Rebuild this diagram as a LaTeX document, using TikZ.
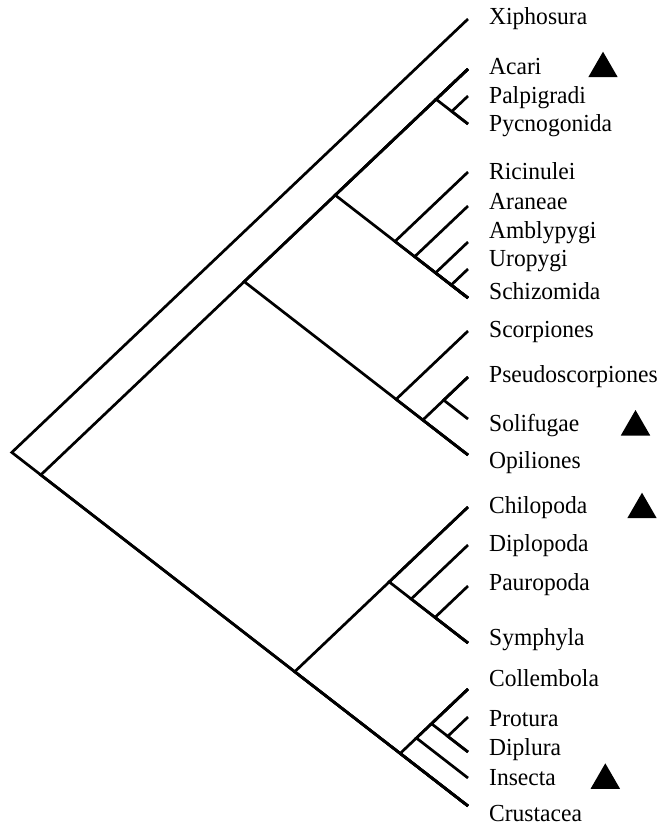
\documentclass[tikz,border=0pt]{standalone}
\usepackage{fontspec}
\setmainfont{Liberation Serif}[FakeStretch=0.96]
\usetikzlibrary{shapes.geometric}

\begin{document}
\begin{tikzpicture}
[x=1pt, y=-1pt,
taxon/.style={anchor=base west, inner sep=0pt,
font=\fontsize{24.5}{29}\selectfont},
marker/.style={regular polygon, regular polygon sides=3, fill=black,
inner sep=0pt, minimum size=34pt},
branch/.style={line width=2.7pt, miter limit=20}]

\useasboundingbox (0,0) rectangle (660,826);

% Tips
\coordinate (xiphosura) at (468,19);
\coordinate (acari) at (468,69);
\coordinate (palpigradi) at (468,96);
\coordinate (pycnogonida) at (468,124);
\coordinate (ricinulei) at (468,172);
\coordinate (araneae) at (468,206);
\coordinate (amblypygi) at (468,242);
\coordinate (uropygi) at (468,269);
\coordinate (schizomida) at (468,298);
\coordinate (scorpiones) at (468,331);
\coordinate (pseudoscorp) at (468,377);
\coordinate (solifugae) at (468,419);
\coordinate (opiliones) at (468,455);
\coordinate (chilopoda) at (468,507);
\coordinate (diplopoda) at (468,545);
\coordinate (pauropoda) at (468,586);
\coordinate (symphyla) at (468,643);
\coordinate (collembola) at (468,689);
\coordinate (protura) at (468,717);
\coordinate (diplura) at (468,752);
\coordinate (insecta) at (468,778);
\coordinate (crustacea) at (468,806);

% Inner nodes
\coordinate (root) at (11.8,452.4);
\coordinate (inner) at (40.8,474.9);
\coordinate (arachnids) at (244.2,281.6);
\coordinate (mandib) at (294.7,671.7);
\coordinate (acari-ric) at (335.2,195.1);
\coordinate (acari-grp) at (436.1,99.3);
\coordinate (palp-pyc) at (451.8,111.4);
\coordinate (ricin-grp) at (395,241.4);
\coordinate (aran-grp) at (414.7,256.6);
\coordinate (ambl-grp) at (435.5,272.9);
\coordinate (urop-schiz) at (451.2,285);
\coordinate (scorp-grp) at (396.1,399.3);
\coordinate (pseudo-opil) at (422.8,420);
\coordinate (pseudo-sol) at (443.7,400.1);
\coordinate (chilo-grp) at (389.2,581.9);
\coordinate (diplo-grp) at (411.2,599);
\coordinate (pauro-sym) at (435,617.4);
\coordinate (coll-crust) at (400.2,753.4);
\coordinate (coll-ins) at (416.4,738);
\coordinate (coll-grp) at (431.5,723.7);
\coordinate (prot-dipl) at (447.7,736.3);

% Branches
\draw[branch] (xiphosura) -- (root) -- (crustacea);
\draw[branch] (acari) -- (inner) -- (crustacea);
\draw[branch] (acari) -- (arachnids) -- (opiliones);
\draw[branch] (chilopoda) -- (mandib) -- (crustacea);
\draw[branch] (acari) -- (acari-ric) -- (schizomida);
\draw[branch] (acari) -- (acari-grp) -- (pycnogonida);
\draw[branch] (palpigradi) -- (palp-pyc) -- (pycnogonida);
\draw[branch] (ricinulei) -- (ricin-grp) -- (schizomida);
\draw[branch] (araneae) -- (aran-grp) -- (schizomida);
\draw[branch] (amblypygi) -- (ambl-grp) -- (schizomida);
\draw[branch] (uropygi) -- (urop-schiz) -- (schizomida);
\draw[branch] (scorpiones) -- (scorp-grp) -- (opiliones);
\draw[branch] (pseudoscorp) -- (pseudo-opil) -- (opiliones);
\draw[branch] (pseudoscorp) -- (pseudo-sol) -- (solifugae);
\draw[branch] (chilopoda) -- (chilo-grp) -- (symphyla);
\draw[branch] (diplopoda) -- (diplo-grp) -- (symphyla);
\draw[branch] (pauropoda) -- (pauro-sym) -- (symphyla);
\draw[branch] (collembola) -- (coll-crust) -- (crustacea);
\draw[branch] (collembola) -- (coll-ins) -- (insecta);
\draw[branch] (collembola) -- (coll-grp) -- (diplura);
\draw[branch] (protura) -- (prot-dipl) -- (diplura);

% Labels
\node[taxon] (xiphosura-txt) at (489,25) {Xiphosura};
\node[taxon] (acari-txt) at (489,75) {Acari};
\node[taxon] (palpigradi-txt) at (489,103.3) {Palpigradi};
\node[taxon] (pycnogonida-txt) at (489,131.7) {Pycnogonida};
\node[taxon] (ricinulei-txt) at (489,179.3) {Ricinulei};
\node[taxon] (araneae-txt) at (489,209.3) {Araneae};
\node[taxon] (amblypygi-txt) at (489,238.3) {Amblypygi};
\node[taxon] (uropygi-txt) at (489,266.7) {Uropygi};
\node[taxon] (schizomida-txt) at (489,299.3) {Schizomida};
\node[taxon] (scorpiones-txt) at (489,337) {Scorpiones};
\node[taxon] (pseudoscorp-txt) at (489,382.7) {Pseudoscorpiones};
\node[taxon] (solifugae-txt) at (489,431.7) {Solifugae};
\node[taxon] (opiliones-txt) at (489,468.3) {Opiliones};
\node[taxon] (chilopoda-txt) at (489,513.3) {Chilopoda};
\node[taxon] (diplopoda-txt) at (489,551.7) {Diplopoda};
\node[taxon] (pauropoda-txt) at (489,590) {Pauropoda};
\node[taxon] (symphyla-txt) at (489,645) {Symphyla};
\node[taxon] (collembola-txt) at (489,686.7) {Collembola};
\node[taxon] (protura-txt) at (489,726.7) {Protura};
\node[taxon] (diplura-txt) at (489,755) {Diplura};
\node[taxon] (insecta-txt) at (489,785.5) {Insecta};
\node[taxon] (crustacea-txt) at (489,821.5) {Crustacea};

% Markers
\node[marker] (acari-mark) at (603,68.7) {};
\node[marker] (solifugae-mark) at (635.5,427) {};
\node[marker] (chilopoda-mark) at (642,509.7) {};
\node[marker] (insecta-mark) at (605.3,780.3) {};

\end{tikzpicture}
\end{document}
